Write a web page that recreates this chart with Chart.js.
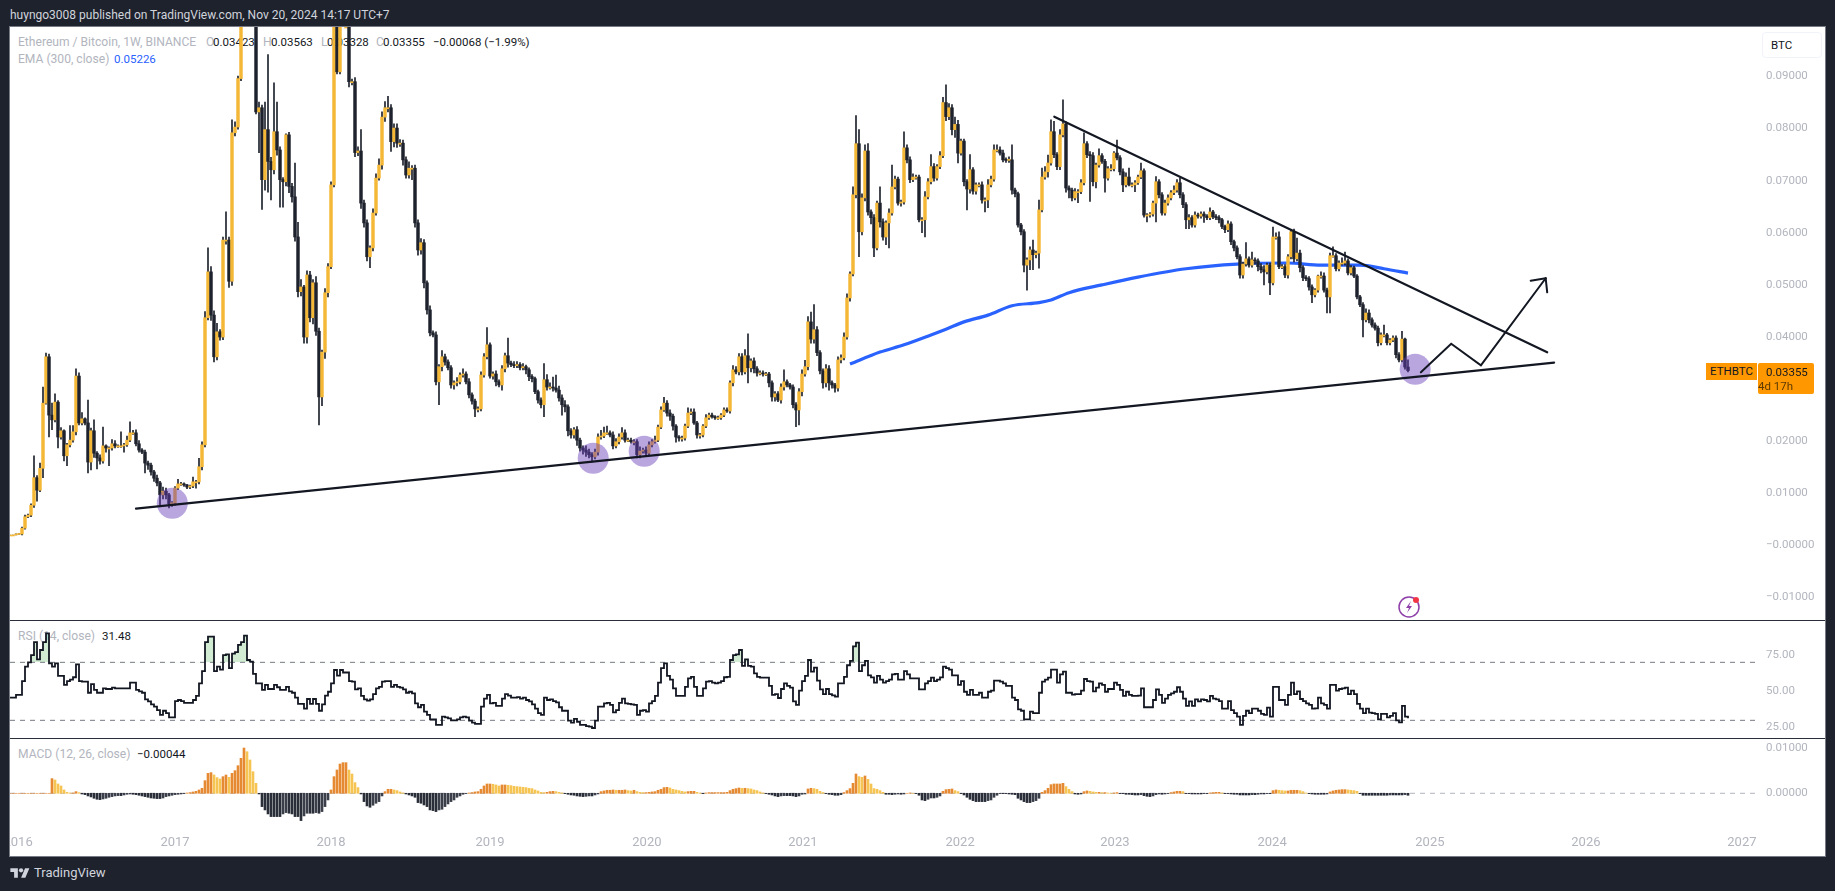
<!DOCTYPE html>
<html>
<head>
<meta charset="utf-8">
<title>ETHBTC 1W</title>
<script src="https://cdn.jsdelivr.net/npm/chart.js@4"></script>
<style>
  html, body { margin: 0; padding: 0; background: #1e222d; }
  body { position: relative; width: 1835px; height: 891px; overflow: hidden; font-family: Roboto, "Noto Sans", sans-serif; }
  #panel { position: absolute; left: 10px; top: 27px; width: 1815px; height: 829px; background: #fff; box-shadow: 0 0 0 1px #787b86; overflow: hidden; }
  canvas { position: absolute; left: 0; display: block; }
  .rule { position: absolute; left: 0; width: 1815px; height: 1px; background: #2a2e39; }
  .legend { position: absolute; font-size: 12.1px; line-height: 16px; white-space: nowrap; color: #b2b5be; }
  .legend.val { font-size: 11.5px; color: #131722; }
  .legend.blue { color: #2962ff; }
  #head { position: absolute; left: 10px; top: 6px; font-size: 12px; line-height: 18px; color: #d1d4dc; white-space: nowrap; }
  #logo { position: absolute; left: 10px; top: 865px; color: #d1d4dc; font-size: 13px; line-height: 16px; }
  #logo svg { position: absolute; left: 0; top: 1px; }
  #logo span { position: absolute; left: 24px; top: 0; }
  #unit { position: absolute; left: 1752px; top: 5px; width: 58px; height: 24px; border: 1px solid #f0f3fa; border-radius: 4px; background: #fff; font-size: 11.5px; line-height: 24px; color: #131722; text-indent: 8px; }
  .tag { position: absolute; background: #ff9800; color: #131722; font-size: 11.5px; line-height: 14px; }
  #bolt { position: absolute; left: 1386px; top: 566px; }
</style>
</head>
<body>
<div id="head">huyngo3008 published on TradingView.com, Nov 20, 2024 14:17 UTC+7</div>
<div id="panel">
  <div class="legend" style="left:8px;top:7px">Ethereum / Bitcoin, 1W, BINANCE</div>
  <div class="legend" style="left:196px;top:7px">O</div><div class="legend val" style="left:203px;top:7px">0.03423</div>
  <div class="legend" style="left:253px;top:7px">H</div><div class="legend val" style="left:261px;top:7px">0.03563</div>
  <div class="legend" style="left:311px;top:7px">L</div><div class="legend val" style="left:317px;top:7px">0.03328</div>
  <div class="legend" style="left:366px;top:7px">C</div><div class="legend val" style="left:373px;top:7px">0.03355</div>
  <div class="legend val" style="left:423px;top:7px">−0.00068 (−1.99%)</div>
  <div class="legend" style="left:8px;top:24px">EMA (300, close)</div><div class="legend val blue" style="left:104px;top:24px">0.05226</div>
  <div class="legend" style="left:8px;top:601px">RSI (14, close)</div><div class="legend val" style="left:92px;top:601px">31.48</div>
  <div class="legend" style="left:8px;top:719px">MACD (12, 26, close)</div><div class="legend val" style="left:127px;top:719px">−0.00044</div>
  <canvas id="priceChart" width="1815" height="593" style="top:0"></canvas>
  <canvas id="rsiChart" width="1815" height="118" style="top:593px"></canvas>
  <canvas id="macdChart" width="1815" height="118" style="top:711px"></canvas>
  <div class="rule" style="top:593px"></div>
  <div class="rule" style="top:711px"></div>
  <div id="unit">BTC</div>
  <div class="tag" style="left:1696px;top:336px;width:51px;height:17px;line-height:17px;text-align:center">ETHBTC</div>
  <div class="tag" style="left:1748px;top:336px;width:56px;height:31px;border-radius:2px;padding-top:2px;box-sizing:border-box;text-indent:8px">0.03355<br><span style="color:#5d3a00">4d 17h</span></div>
  <svg id="bolt" width="26" height="26" viewBox="0 0 26 26">
    <circle cx="13" cy="14" r="10" fill="#fff" stroke="#8e3fa8" stroke-width="1.5"/>
    <path d="M15 8l-5 7h3l-2 5 5-7h-3z" fill="#8e3fa8"/>
    <circle cx="20" cy="7" r="3" fill="#f23645"/>
  </svg>
</div>
<div id="logo">
  <svg width="20" height="15" viewBox="0 0 36 28" fill="#d1d4dc"><path d="M14 22H7V11H0V4h14v18zM28 22h-8l7.5-18h8L28 22z"/><circle cx="20" cy="8" r="4"/></svg>
  <span>TradingView</span>
</div>

<script>
// 週足の終値(BTC)。週番号は先頭の週を0とする
const closes = [
  0.0020,0.0020,0.0021,0.0022,0.0033,0.0055,0.0058,0.0077,0.0130,0.0106,
  0.0148,0.0273,0.0362,0.0250,0.0241,0.0275,0.0208,0.0220,0.0172,0.0193,
  0.0202,0.0218,0.0325,0.0235,0.0243,0.0235,0.0160,0.0220,0.0177,0.0168,
  0.0162,0.0191,0.0187,0.0187,0.0195,0.0191,0.0191,0.0191,0.0193,0.0202,
  0.0216,0.0216,0.0195,0.0183,0.0179,0.0158,0.0154,0.0141,0.0129,0.0120,
  0.0097,0.0104,0.0097,0.0080,0.0081,0.0110,0.0118,0.0118,0.0116,0.0112,
  0.0114,0.0122,0.0122,0.0151,0.0193,0.0437,0.0525,0.0442,0.0362,0.0410,
  0.0400,0.0586,0.0586,0.0507,0.0792,0.0803,0.0896,0.1050,0.1500,0.1250,
  0.1180,0.1000,0.0832,0.0840,0.0702,0.0798,0.0737,0.0721,0.0794,0.0759,
  0.0702,0.0698,0.0788,0.0689,0.0669,0.0592,0.0487,0.0496,0.0400,0.0519,
  0.0437,0.0504,0.0411,0.0285,0.0371,0.0485,0.0535,0.0692,0.1000,0.0909,
  0.1040,0.1000,0.1000,0.0890,0.0890,0.0754,0.0757,0.0657,0.0619,0.0554,
  0.0571,0.0638,0.0705,0.0730,0.0822,0.0840,0.0840,0.0775,0.0801,0.0772,
  0.0772,0.0740,0.0711,0.0724,0.0724,0.0619,0.0567,0.0581,0.0504,0.0452,
  0.0408,0.0404,0.0314,0.0343,0.0362,0.0352,0.0341,0.0308,0.0312,0.0314,
  0.0327,0.0329,0.0314,0.0289,0.0277,0.0262,0.0262,0.0327,0.0362,0.0385,
  0.0325,0.0329,0.0314,0.0308,0.0339,0.0364,0.0350,0.0347,0.0345,0.0347,
  0.0341,0.0343,0.0337,0.0324,0.0320,0.0295,0.0279,0.0270,0.0318,0.0304,
  0.0304,0.0302,0.0298,0.0283,0.0270,0.0266,0.0220,0.0212,0.0222,0.0202,
  0.0187,0.0183,0.0179,0.0174,0.0170,0.0179,0.0208,0.0210,0.0216,0.0216,
  0.0212,0.0191,0.0199,0.0208,0.0216,0.0202,0.0202,0.0199,0.0199,0.0174,
  0.0181,0.0183,0.0177,0.0193,0.0199,0.0202,0.0227,0.0260,0.0273,0.0254,
  0.0248,0.0229,0.0208,0.0206,0.0206,0.0229,0.0254,0.0256,0.0235,0.0212,
  0.0212,0.0229,0.0245,0.0250,0.0247,0.0245,0.0245,0.0250,0.0260,0.0258,
  0.0312,0.0337,0.0333,0.0362,0.0333,0.0364,0.0341,0.0354,0.0339,0.0331,
  0.0331,0.0329,0.0329,0.0312,0.0285,0.0291,0.0279,0.0304,0.0314,0.0308,
  0.0304,0.0270,0.0260,0.0295,0.0329,0.0343,0.0429,0.0396,0.0414,0.0370,
  0.0335,0.0312,0.0339,0.0312,0.0308,0.0302,0.0356,0.0360,0.0400,0.0475,
  0.0521,0.0673,0.0771,0.0602,0.0667,0.0757,0.0640,0.0629,0.0571,0.0657,
  0.0621,0.0592,0.0619,0.0638,0.0688,0.0703,0.0657,0.0659,0.0763,0.0740,
  0.0702,0.0707,0.0707,0.0625,0.0625,0.0669,0.0698,0.0727,0.0705,0.0727,
  0.0748,0.0850,0.0823,0.0840,0.0798,0.0808,0.0753,0.0776,0.0698,0.0684,
  0.0721,0.0680,0.0692,0.0692,0.0663,0.0663,0.0692,0.0703,0.0759,0.0759,
  0.0753,0.0740,0.0739,0.0740,0.0682,0.0675,0.0615,0.0602,0.0538,0.0548,
  0.0567,0.0558,0.0561,0.0644,0.0707,0.0717,0.0734,0.0794,0.0750,0.0727,
  0.0788,0.0809,0.0686,0.0682,0.0667,0.0679,0.0679,0.0696,0.0771,0.0750,
  0.0748,0.0698,0.0730,0.0748,0.0737,0.0705,0.0723,0.0723,0.0753,0.0744,
  0.0717,0.0692,0.0707,0.0692,0.0692,0.0696,0.0707,0.0719,0.0634,0.0634,
  0.0636,0.0657,0.0698,0.0673,0.0638,0.0657,0.0667,0.0677,0.0682,0.0696,
  0.0673,0.0654,0.0625,0.0629,0.0615,0.0634,0.0632,0.0636,0.0632,0.0629,
  0.0640,0.0631,0.0629,0.0625,0.0612,0.0606,0.0617,0.0583,0.0571,0.0554,
  0.0519,0.0540,0.0550,0.0538,0.0548,0.0546,0.0535,0.0529,0.0525,0.0538,
  0.0504,0.0592,0.0592,0.0535,0.0535,0.0519,0.0554,0.0602,0.0550,0.0561,
  0.0533,0.0514,0.0512,0.0496,0.0481,0.0490,0.0517,0.0517,0.0490,0.0477,
  0.0556,0.0556,0.0531,0.0542,0.0542,0.0546,0.0523,0.0533,0.0517,0.0477,
  0.0462,0.0433,0.0446,0.0433,0.0423,0.0417,0.0389,0.0404,0.0404,0.0389,
  0.0394,0.0398,0.0366,0.0356,0.0396,0.03423,0.03355
];

// ヒゲの長さ(0.0001 BTC単位)。実体の上端・下端から測る
const wickUp = [
  0,0,1,1,2,3,2,3,42,4, 10,31,7,5,23,16,3,6,2,3, 28,12,14,6,12,2,44,5,21,3,
  6,36,2,2,8,6,2,27,3,8, 21,5,6,6,3,4,4,4,3,6, 3,8,6,3,3,3,9,3,2,1,
  2,9,3,16,6,12,46,10,8,16, 4,6,54,6,25,10,5,5,10,10, 5,5,5,11,5,53,144,8,94,57,
  6,4,2,5,6,65,28,14,3,8, 7,6,12,6,4,8,6,6,5,10, 10,10,5,10,5,8,8,41,6,6,
  4,8,8,12,10,12,22,6,8,8, 7,6,6,12,5,6,6,8,6,4, 8,4,6,4,12,5,4,4,4,8,
  4,10,4,6,4,4,4,6,6,33, 4,4,6,4,6,5,34,4,6,6, 4,6,3,4,4,3,3,4,31,10,
  8,19,25,8,6,8,4,4,4,6, 4,4,8,6,4,6,6,11,11,13, 4,6,6,6,10,6,4,4,4,4,
  8,4,6,6,4,8,4,6,11,5, 6,4,3,3,4,4,10,6,6,3, 3,3,6,4,4,2,3,3,4,4,
  4,8,6,6,6,12,42,4,6,4, 4,4,3,3,4,4,4,6,23,4, 3,4,4,6,8,12,10,19,48,6,
  4,4,8,6,4,3,6,6,8,8, 4,15,54,27,8,12,14,4,6,4, 31,6,4,8,42,6,4,4,31,6,
  6,6,4,4,4,10,6,23,6,4, 8,10,34,8,6,14,8,4,4,4, 29,4,4,4,6,4,10,6,10,10,
  6,6,4,6,29,4,3,3,4,4, 6,19,4,19,17,10,15,23,20,4, 10,46,4,4,4,6,4,6,21,4,
  6,6,4,13,4,4,4,8,3,25, 4,6,8,17,4,4,4,15,4,3, 3,4,10,4,4,6,6,4,8,6,
  9,4,4,6,4,6,4,4,4,3, 8,3,4,4,3,3,6,4,3,4, 4,4,31,4,15,4,4,6,8,4,
  4,19,8,10,4,4,4,3,5,29, 6,4,4,4,4,3,2,8,6,4, 5,17,4,4,10,17,4,4,3,3,
  3,4,8,6,4,4,4,4,19,3, 3,4,4,4,15,2,14
];
const wickDown = [
  0,0,0,0,2,2,2,3,4,21, 3,18,2,42,19,4,21,4,10,19, 4,4,6,4,4,4,21,15,8,21,
  6,4,8,34,4,4,3,3,12,3, 3,3,4,4,3,19,8,6,6,6, 19,8,8,8,5,4,3,3,3,3,
  3,3,12,4,6,4,4,10,10,6, 6,5,8,12,8,6,4,4,4,4, 4,4,4,78,57,20,59,58,8,10,
  53,49,8,12,10,8,10,8,12,12, 8,12,8,54,17,12,8,4,4,4, 4,4,4,10,6,8,6,10,8,8,
  21,6,4,4,8,8,8,19,10,8, 6,10,6,6,22,8,10,8,10,8, 6,4,6,44,8,6,4,6,8,6,
  4,4,4,6,6,15,6,4,4,4, 4,6,8,4,10,6,8,4,4,4, 4,4,8,8,6,4,6,6,23,6,
  4,6,4,6,20,10,10,6,6,10, 6,8,8,6,10,4,6,4,3,3, 4,6,4,4,4,4,3,3,6,6,
  6,4,6,4,4,3,3,3,3,6, 8,8,10,6,6,4,3,3,3,6, 6,4,3,3,3,3,3,3,3,3,
  4,6,4,6,6,4,29,8,8,6, 4,4,3,8,8,8,3,6,6,4, 4,6,32,29,8,4,6,8,8,6,
  6,10,8,14,6,8,6,6,4,4, 6,4,6,48,6,6,6,12,17,4, 10,6,15,48,4,4,4,6,4,6,
  6,4,4,4,25,33,4,4,6,4, 4,4,8,6,10,15,19,4,8,40, 8,6,6,4,6,23,15,4,4,4,
  4,4,4,4,8,6,4,6,13,48, 19,29,6,29,4,4,10,4,6,6, 6,4,8,15,6,4,21,4,4,6,
  88,8,12,4,4,27,4,4,4,4, 6,13,4,2,4,13,3,3,4,13, 4,4,36,6,4,4,4,4,4,4,
  6,6,17,17,4,4,4,4,12,4, 4,4,4,6,4,6,4,6,6,4, 6,6,4,4,4,6,8,6,25,4,
  23,4,4,4,4,5,6,4,6,4, 8,6,4,6,15,4,4,4,4,31, 31,3,4,4,4,4,4,4,3,4,
  4,33,4,6,4,4,6,4,4,4, 4,3,6,4,4,4,2.7
];

// RSI(14)
const rsiValues = [
  45.6,45.6,47.5,47.5,57,67,70,75,84,72, 78.5,84,90,69.3,67,69.3,60.6,60.6,54.4,57,
  58,59.7,68.6,57,56.7,56.7,49,55,51,49, 49,52,51.6,51.6,52.5,52,52,52,52,52,
  56,56,51,50,49,44.5,43,41,39.4,37, 33.7,36.6,35,32,32,43.3,44,43.3,42,42,
  42,44,46.8,55.5,64,84,87.7,87.7,64,67, 65,75,75.5,66,76,77,82,84,88.4,71.6,
  70.5,62,55.5,55.5,51,54.4,51.6,51.6,54.4,52.8, 51,51,53,50,49,45.6,41.3,41.3,38,44.7,
  41.3,44.7,41.3,36.6,41,47,49.7,55.5,64.7,60.8, 64.7,63,63,57,56.7,51.4,52,46.8,44.5,43.6,
  44.5,48,52,53,56.7,57,57,53,54.4,53, 52.5,51.4,49,49.7,48.6,41.7,39,40.6,36,33.7,
  30.7,30.7,26.8,26.8,32.5,32,31.4,30,30,30.7, 32,32.5,32,29.8,28.4,27.5,27.5,39.4,45,47.5,
  41.7,42,40,40,45,48,47,45.6,45.6,46, 45,45.6,44,43,41,38,35,33.7,45.6,44,
  44.5,43.3,42.4,39,36.6,36.6,29.8,28.4,31,29, 26.8,26.8,26,25.6,24.7,29.8,39.4,39.4,41.7,42,
  40.6,35.5,37,42,45,41.7,41.3,41,40.6,33.7, 36.6,37,36,41.7,43.3,46.8,56,66,69.3,60.6,
  58,52,46.8,46.8,46.8,53,59,60,53,46.8, 46.8,52,56.7,57,56,55.5,56,57,59.7,60,
  71.6,75,75.5,78.5,67.5,72,67.5,67,62.4,60, 59.4,59.4,59.4,53.7,47.5,48,45.4,51.6,55.5,53.7,
  52.5,43,40.6,50.5,57,60.6,71.6,63.6,66.3,57.4, 51.4,48,51.6,48,47.2,46.3,55.5,55.5,60,68,
  71,81,83.6,64,68,71,61,59.6,56,60.6, 58,56,57,58,61.7,62,58,58,64,61.7,
  59,59,59,51.4,51.4,55.5,57,59.4,57,58, 59.6,67,66,65,61,61,54.4,57,49.7,47.5,
  51,47.5,47.5,49,45.6,45.6,49.7,50.5,57.4,57.4, 56.7,55.5,53.7,53.7,45.6,44,37.6,36.6,30.7,30.7,
  36,35,35,49,56.7,58,59.4,65,65,56, 61.7,63.6,49,49,47.7,48,48,50.5,58.5,57,
  56.7,50,52.5,55.5,54.4,49.7,51.6,51.6,56,54.4, 51,46.8,49.7,47.5,46.8,46.8,47,52,39,39,
  39,44,51.4,47.5,42,45,47.5,48.6,49.7,52.8, 49.7,45,40,43,40,44.5,43,44.5,44,43,
  46.8,45,44.5,43.3,38,38,43.3,37,35,32.5, 26.8,33,36.6,35,38,38,36.6,34.4,33.7,38.7,
  32.5,53,53,44,44,40.6,47.5,56,48,50, 44.7,43.3,41.7,40.6,38,38.3,45.6,41.7,40.6,38,
  54.4,54.4,50.5,51.6,52,52.5,48,50.5,48,41.3, 38,35,38,35.3,35,34.4,30.7,34.4,34.4,32,
  33,35,30,28.6,40,32.5,31.48
];

// MACDヒストグラム(0.00001 BTC単位)
const macdHist = [
  0,0,0,0,0,0,0,0,0,0, 0,0,0,0,326,296,207,163,74,22, 7,7,37,15,-15,-30,-59,-81,-111,-133,
  -141,-126,-111,-89,-74,-59,-52,-52,-37,-22, -15,-22,-30,-44,-59,-74,-89,-104,-111,-118,
  -118,-104,-74,-59,-44,-30,-22,-15,-7,7, 15,30,44,74,111,281,444,459,407,348,
  318,370,407,355,444,503,614,777,1006,925, 740,481,222,-15,-296,-370,-459,-518,-518,-518,
  -518,-459,-429,-444,-459,-518,-518,-607,-503,-444, -444,-444,-429,-444,-407,-296,-148,74,370,518,
  651,681,681,518,429,237,126,-15,-185,-281, -311,-266,-222,-185,-59,37,89,89,74,59,
  30,7,-15,-37,-59,-89,-207,-222,-259,-296, -370,-385,-407,-370,-355,-296,-237,-185,-148,-89,
  -59,-22,-7,7,15,30,37,89,163,207, 207,200,185,163,185,185,178,170,155,148,
  141,133,126,111,104,74,52,22,15,22, 37,44,37,22,7,-7,-22,-37,-44,-59,
  -67,-74,-67,-59,-59,-37,-15,37,52,67, 67,74,67,67,67,74,59,52,67,37,
  22,15,15,22,30,37,67,89,126,133, 118,89,74,59,44,30,37,44,44,22,
  7,-7,7,15,15,15,15,15,15,22, 59,89,104,118,111,111,104,96,74,59,
  30,7,-7,-22,-37,-59,-74,-59,-52,-52, -52,-59,-74,-59,-22,-15,96,111,104,89,
  44,15,-7,-22,-30,-44,-44,-30,15,59, 104,222,429,370,355,385,311,207,104,89,
  59,22,-22,-22,-30,-22,-15,-22,-15,0, 7,0,-7,-44,-148,-163,-133,-104,-104,-89,
  -59,44,81,89,96,59,37,-7,-37,-89, -133,-163,-185,-185,-185,-185,-163,-148,-89,-44,
  -7,-7,-7,-15,-22,-30,-111,-148,-185,-207, -207,-185,-163,-111,22,59,111,192,207,207,
  207,222,148,89,37,-15,-22,-15,37,52, 44,30,22,22,15,15,7,0,7,15,
  -7,-7,-22,-22,-30,-37,-37,-30,-52,-67, -74,-59,-30,-15,-22,-15,-7,15,30,44,
  44,37,-7,-7,-15,-15,-15,-15,-7,-7, 7,15,22,22,7,-7,-7,-15,-22,-22,
  -37,-37,-37,-37,-30,-30,-22,-15,-15,-7, -7,59,74,67,59,52,52,67,67,67,
  59,37,7,-7,-15,-22,-22,-22,-22,-15, 30,52,67,74,81,81,74,67,59,44,
  -7,-44,-44,-44,-44,-44,-44,-44,-44,-44, -37,-37,-37,-37,-37,-30,-44
];

// EMA(300)の週番号と値
const emaWeeks = [280,290,298,307,312,318,326,334,343,347,353,364,376,392,409,426,437,450,458,466];
const emaValues = [0.0348,0.0371,0.0385,0.0404,0.0415,0.0429,0.0442,0.0460,0.0466,0.0471,0.0485,0.0500,0.0515,0.0531,0.0540,0.0542,0.0538,0.0538,0.0531,0.05226];

// 書き込みの線(週番号, 価格)
const supportLine = [[42,0.00704],[514.7,0.03507]];
const resistanceLine = [[348.1,0.08228],[512.4,0.03706]];
const forecastPath = [[470.3,0.03322],[480.4,0.03871],[490.3,0.03457],[511.9,0.05127]];
const forecastHeadLeft = [[506.9,0.05081],[511.9,0.05127]];
const forecastHeadRight = [[512.4,0.04858],[511.9,0.05127]];
const touchPoints = [[54.1,0.00808],[194.4,0.01671],[211.4,0.01806],[468.4,0.03380]];

// 軸のラベル
const priceTicks = [0.09,0.08,0.07,0.06,0.05,0.04,0.02,0.01,0,-0.01];
const priceTickLabels = ["0.09000","0.08000","0.07000","0.06000","0.05000","0.04000","0.02000","0.01000","−0.00000","−0.01000"];
const rsiTicks = [75,50,25];
const rsiTickLabels = ["75.00","50.00","25.00"];
const rsiBands = [70,30];
const macdTicks = [0.01,0];
const macdTickLabels = ["0.01000","0.00000"];
const yearWeeks = [2.7,55,107,160,212.3,264.3,316.7,368.3,420.7,473.3,525.3,577.3];
const yearLabels = ["2016","2017","2018","2019","2020","2021","2022","2023","2024","2025","2026","2027"];

const WEEK_MIN = 0;
const WEEK_MAX = 581.67;
const ORANGE = "#f4b836";
const DARK = "#1e222d";
const LINE_DARK = "#131722";
const TICK_COLOR = "#b2b5be";
const FONT = "Roboto, 'Noto Sans', sans-serif";

Chart.defaults.animation = false;
Chart.defaults.events = [];

function toPoints(pairs) {
  return pairs.map((p) => ({ x: p[0], y: p[1] }));
}

// 右側の価格軸。プロット幅がそろうように幅を固定する
function rightAxis(min, max, ticks, labels) {
  return {
    position: "right",
    min: min,
    max: max,
    grid: { display: false, drawTicks: false },
    border: { display: false },
    ticks: {
      padding: 11,
      autoSkip: false,
      crossAlign: "near",
      color: TICK_COLOR,
      font: { family: FONT, size: 11.5 },
      callback: (value, index) => labels[index],
    },
    afterBuildTicks: (axis) => {
      axis.ticks = ticks.map((v) => ({ value: v }));
    },
    afterFit: (axis) => {
      axis.width = 70;
      axis.paddingTop = 0;
      axis.paddingBottom = 0;
    },
  };
}

function hiddenWeekAxis() {
  return { type: "linear", min: WEEK_MIN, max: WEEK_MAX, offset: false, display: false };
}

function lineSet(pairs, order, color, width) {
  return {
    type: "line",
    data: toPoints(pairs),
    borderColor: color,
    borderWidth: width,
    pointRadius: 0,
    borderCapStyle: "round",
    order: order,
  };
}

// autoPaddingを切らないと太い点のぶんだけプロットが縮む
const baseOptions = {
  responsive: false,
  layout: { padding: 0, autoPadding: false },
  plugins: { legend: { display: false }, tooltip: { enabled: false } },
};

// ローソク足: 始値は前の週の終値
const opens = closes.map((c, i) => (i === 0 ? c : closes[i - 1]));
const bodies = closes.map((c, i) => ({ x: i, y: [opens[i], c] }));
const bodyColors = closes.map((c, i) => (c >= opens[i] ? ORANGE : DARK));
const wicks = closes.map((c, i) => ({
  x: i,
  y: [Math.min(opens[i], c) - wickDown[i] / 1e4, Math.max(opens[i], c) + wickUp[i] / 1e4],
}));

new Chart(document.getElementById("priceChart"), {
  type: "bar",
  data: {
    datasets: [
      { type: "line", data: emaWeeks.map((w, i) => ({ x: w, y: emaValues[i] })), borderColor: "#2962ff", borderWidth: 3.2, pointRadius: 0, cubicInterpolationMode: "monotone", order: 8 },
      { data: wicks, backgroundColor: DARK, barThickness: 1, grouped: false, order: 7 },
      { data: bodies, backgroundColor: bodyColors, barThickness: 2.8, minBarLength: 1, grouped: false, order: 6 },
      { type: "line", data: toPoints(touchPoints), showLine: false, pointRadius: 15.5, pointBorderWidth: 0, pointBackgroundColor: "rgba(103,58,183,0.45)", order: 5 },
      lineSet(supportLine, 4, LINE_DARK, 2.2),
      lineSet(resistanceLine, 3, LINE_DARK, 2.2),
      lineSet(forecastPath, 2, LINE_DARK, 2),
      lineSet(forecastHeadLeft, 1, LINE_DARK, 2),
      lineSet(forecastHeadRight, 1, LINE_DARK, 2),
    ],
  },
  options: {
    ...baseOptions,
    scales: { x: hiddenWeekAxis(), y: rightAxis(-0.01432, 0.0995, priceTicks, priceTickLabels) },
  },
});

new Chart(document.getElementById("rsiChart"), {
  type: "line",
  data: {
    datasets: [
      {
        data: rsiValues.map((v, i) => ({ x: i, y: v })),
        borderColor: LINE_DARK,
        borderWidth: 1.8,
        pointRadius: 0,
        stepped: true,
        fill: { target: { value: 70 }, above: "rgba(76,175,80,0.25)", below: "rgba(0,0,0,0)" },
      },
    ].concat(rsiBands.map((b) => ({
      data: [{ x: WEEK_MIN, y: b }, { x: WEEK_MAX, y: b }],
      borderColor: "#787b86",
      borderWidth: 1,
      borderDash: [5, 5],
      pointRadius: 0,
    }))),
  },
  options: {
    ...baseOptions,
    scales: { x: hiddenWeekAxis(), y: rightAxis(17.8, 99.2, rsiTicks, rsiTickLabels) },
  },
});

// ヒストグラムの色: 増加中は濃いオレンジ、減少中は薄いオレンジ
const macdColors = macdHist.map((v, i) => {
  const prev = i === 0 ? 0 : macdHist[i - 1];
  if (v >= 0) return v >= prev ? "#e58a32" : "#f6c453";
  return v <= prev ? "#2a2e39" : "#3b3f4a";
});

new Chart(document.getElementById("macdChart"), {
  type: "bar",
  data: {
    datasets: [
      { type: "line", data: [{ x: WEEK_MIN, y: 0 }, { x: WEEK_MAX, y: 0 }], borderColor: "#b2b5be", borderWidth: 1, borderDash: [5, 5], pointRadius: 0, order: 2 },
      { data: macdHist.map((v, i) => ({ x: i, y: v / 1e5 })), backgroundColor: macdColors, barThickness: 2, grouped: false, order: 1 },
    ],
  },
  options: {
    ...baseOptions,
    scales: {
      x: {
        type: "linear",
        min: WEEK_MIN,
        max: WEEK_MAX,
        offset: false,
        grid: { display: false, drawTicks: false },
        border: { display: false },
        ticks: {
          padding: 5,
          autoSkip: false,
          maxRotation: 0,
          color: TICK_COLOR,
          font: { family: FONT, size: 13 },
          callback: (value, index) => yearLabels[index],
        },
        afterBuildTicks: (axis) => {
          axis.ticks = yearWeeks.map((v) => ({ value: v }));
        },
        afterFit: (axis) => {
          axis.height = 26;
          axis.paddingLeft = 0;
          axis.paddingRight = 0;
        },
      },
      y: rightAxis(-0.00816, 0.01229, macdTicks, macdTickLabels),
    },
  },
});
</script>
</body>
</html>
